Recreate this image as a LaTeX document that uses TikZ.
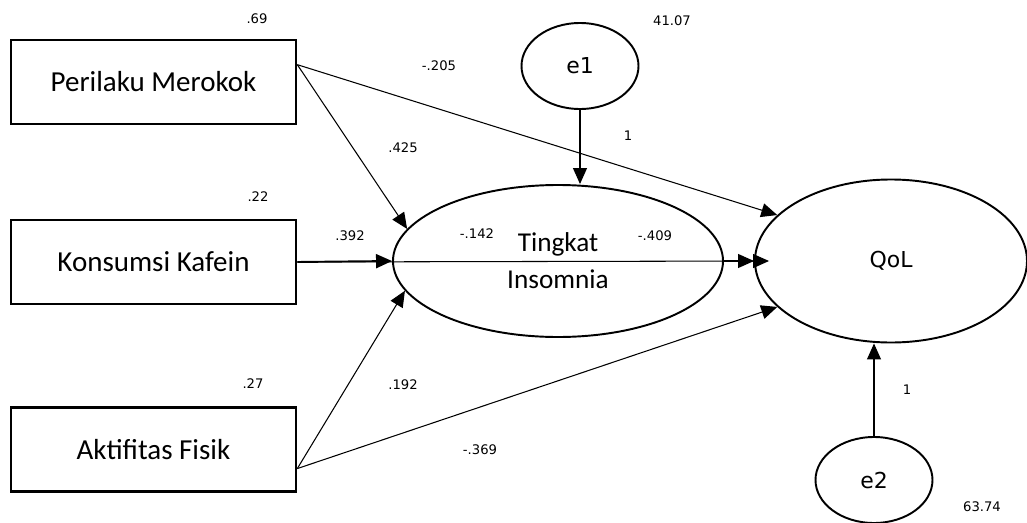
\documentclass[tikz,border=0pt]{standalone}
\usepackage{fontspec}
\setmainfont{Carlito}
\newfontfamily\tahomafont{DejaVu Sans}
\usepackage{tikz}
\usetikzlibrary{
	shapes,
	calc,
	arrows.meta}

\begin{document}
\begin{tikzpicture}[x=0.2mm,y=-0.2mm,every text node part/.style={align=center},
  obsvar/.style={draw,line width=1.5pt,minimum width=57mm,minimum height=16.8mm,inner sep=0pt,font=\fontsize{16.5}{19}\selectfont},
  latvar/.style={draw,ellipse,line width=1.1pt,inner sep=0pt,font=\fontsize{15.5}{21}\selectfont},
  errvar/.style={draw,ellipse,line width=1.1pt,inner sep=0pt,minimum width=23.4mm,minimum height=17.2mm,font=\fontsize{12.5}{15}\tahomafont},
  coef/.style={inner sep=0pt,font=\fontsize{7.5}{9}\tahomafont},
  pathway/.style={line width=0.6pt,-{Triangle[length=3.2mm,width=2.8mm]}}]
  \useasboundingbox (0,0) rectangle (1027,523);

  % Variables
  \node[obsvar] (PM) at (153.5,82) {Perilaku Merokok};
  \node[obsvar] (KK) at (153.5,262) {Konsumsi Kafein};
  \node[obsvar] (AF) at (153.5,449.5) {Aktifitas Fisik};
  \node[latvar,minimum width=66mm,minimum height=30.4mm] (TI) at (558,261) {Tingkat\\Insomnia};
  \node[latvar,minimum width=54.4mm,minimum height=32.6mm,font=\fontsize{12.5}{15}\tahomafont] (QoL) at (891,261) {QoL};
  \node[errvar] (E1) at (580,66) {e1};
  \node[errvar] (E2) at (874,480) {e2};

  % Paths
  \draw [pathway] ($(PM.north east)!0.3!(PM.south east)$) to (TI.168);
  \draw [pathway] ($(PM.north east)!0.3!(PM.south east)$) to (QoL.158);
  \draw [pathway,line width=1.1pt] (KK.east) to (TI.west);
  \draw [pathway] (KK.east) to ([xshift=3mm]QoL.west);
  \draw [pathway] (TI.east) to (QoL.west);
  \draw [pathway] ($(AF.north east)!0.72!(AF.south east)$) to (TI.191);
  \draw [pathway] ($(AF.north east)!0.72!(AF.south east)$) to (QoL.202);
  \draw [pathway] (E1.south) to (E1.south |- TI.north);
  \draw [pathway] (E2.north) to (E2.north |- QoL.south);

  % Estimates
  \node[coef] (R1) at (257,19) {.69};
  \node[coef] (R2) at (258,197) {.22};
  \node[coef] (R3) at (253,384) {.27};
  \node[coef] (V1) at (672,21) {41.07};
  \node[coef] (V2) at (982,507) {63.74};
  \node[coef] (B1) at (439,66) {-.205};
  \node[coef] (B2) at (403,148) {.425};
  \node[coef] (B3) at (350,236) {.392};
  \node[coef] (B4) at (477,234) {-.142};
  \node[coef] (B5) at (655,236) {-.409};
  \node[coef] (B6) at (403,385) {.192};
  \node[coef] (B7) at (480,450) {-.369};
  \node[coef] (L1) at (628,136) {1};
  \node[coef] (L2) at (907,390) {1};

\end{tikzpicture}
\end{document}
